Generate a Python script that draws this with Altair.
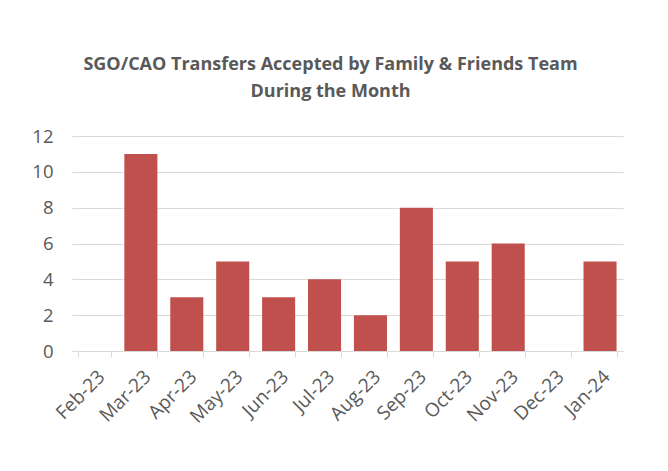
import altair as alt
import pandas as pd

months = ["Feb-23", "Mar-23", "Apr-23", "May-23", "Jun-23", "Jul-23",
          "Aug-23", "Sep-23", "Oct-23", "Nov-23", "Dec-23", "Jan-24"]
transfers = [0, 11, 3, 5, 3, 4, 2, 8, 5, 6, 0, 5]

df = pd.DataFrame({"month": months, "value": transfers})

FONT = "Open Sans"
GREY = "#595959"

chart = alt.Chart(df).mark_bar(color="#C0504D").encode(
    x=alt.X("month:N", sort=months, title=None,
            scale=alt.Scale(paddingInner=0.28, paddingOuter=0.14),
            axis=alt.Axis(labelAngle=-45, labelFontSize=19, labelColor=GREY,
                          labelFont=FONT, tickBand="extent", tickSize=6,
                          tickColor="#d9d9d9", domainColor="#d9d9d9",
                          labelPadding=10, grid=False)),
    y=alt.Y("value:Q", title=None,
            scale=alt.Scale(domain=[0, 12], nice=False),
            axis=alt.Axis(values=[0, 2, 4, 6, 8, 10, 12], labelFontSize=18.5,
                          labelColor=GREY, labelFont=FONT, domain=False,
                          ticks=False, labelPadding=19, gridColor="#d9d9d9",
                          gridWidth=1)),
).properties(
    width=551,
    height=215,
    title=alt.TitleParams(
        ["SGO/CAO Transfers Accepted by Family & Friends Team", "During the Month"],
        font=FONT, fontSize=18, fontWeight="bold", color=GREY,
        anchor="middle", dx=-17, offset=26, lineHeight=27),
    autosize=alt.AutoSizeParams(type="none"),
    padding={"left": 64, "top": 128, "right": 37, "bottom": 110},
    background="white",
).configure_view(stroke=None)

chart.save("out.html", embed_options={"renderer": "svg", "actions": False})
